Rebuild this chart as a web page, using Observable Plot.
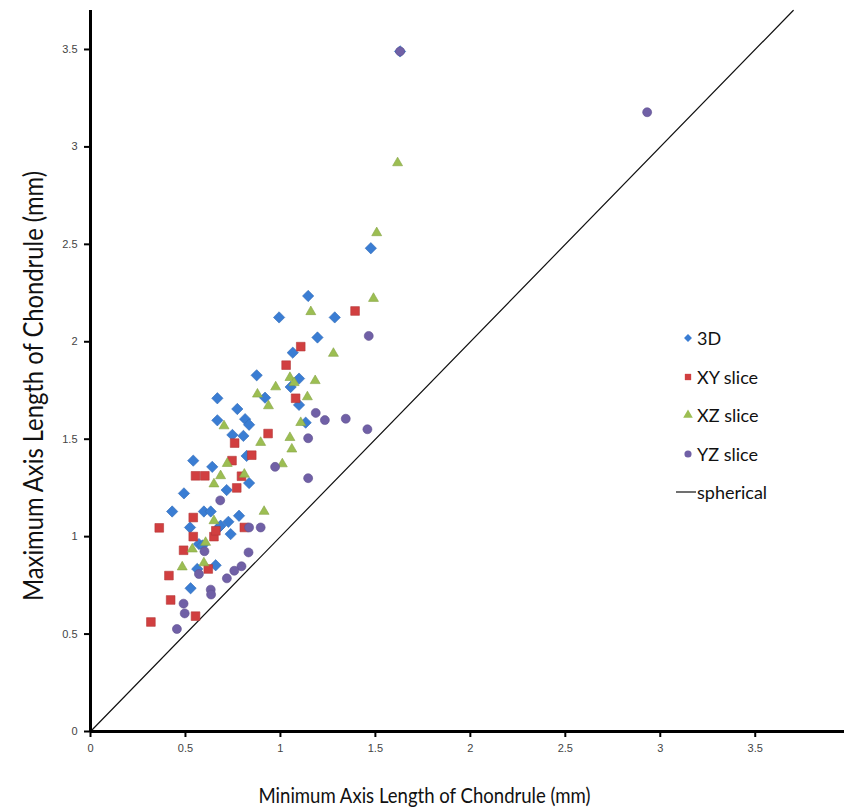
<!DOCTYPE html>
<html>
<head>
<meta charset="utf-8">
<script src="https://cdn.jsdelivr.net/npm/d3@7"></script>
<script src="https://cdn.jsdelivr.net/npm/@observablehq/plot@0.6"></script>
<style>
  html, body { margin: 0; padding: 0; background: #fff; }
  #wrap { position: relative; width: 844px; height: 811px; font-family: Lato, "Open Sans", sans-serif; }
  #legend { position: absolute; left: 676px; top: 326px; font-size: 18px; color: #111; }
  #legend .row { height: 38.5px; display: flex; align-items: center; height: 24px; margin-bottom: 14.5px; }
  #legend svg { margin-right: 1px; }
</style>
</head>
<body>
<div id="wrap"><div id="legend"></div></div>
<script>
// Series names
const series = ["3D", "XY slice", "XZ slice", "YZ slice"];

// [minimum axis, maximum axis] in mm for each chondrule
const points3D = [
  [1.63, 3.49], [1.476, 2.48], [1.146, 2.235], [0.993, 2.125], [1.286, 2.125],
  [1.195, 2.022], [1.065, 1.944], [0.875, 1.828], [1.098, 1.811], [1.054, 1.768],
  [0.919, 1.713], [1.098, 1.676], [0.668, 1.71], [0.773, 1.655], [0.668, 1.597],
  [0.814, 1.603], [0.835, 1.574], [0.747, 1.522], [0.805, 1.517], [1.133, 1.585],
  [0.822, 1.414], [0.541, 1.39], [0.641, 1.358], [0.492, 1.222], [0.717, 1.239],
  [0.835, 1.275], [0.43, 1.129], [0.597, 1.129], [0.633, 1.129], [0.782, 1.107],
  [0.726, 1.076], [0.524, 1.047], [0.676, 1.047], [0.738, 1.013], [0.571, 0.962],
  [0.59, 0.955], [0.659, 0.853], [0.562, 0.834], [0.527, 0.735], [0.685, 1.056]
];
const pointsXY = [
  [1.393, 2.158], [1.107, 1.975], [1.03, 1.88], [1.08, 1.71], [0.759, 1.48],
  [0.935, 1.529], [0.849, 1.418], [0.745, 1.39], [0.553, 1.312], [0.602, 1.312],
  [0.795, 1.31], [0.77, 1.25], [0.541, 1.098], [0.362, 1.045], [0.81, 1.047],
  [0.65, 1.0], [0.66, 1.03], [0.541, 1.0], [0.49, 0.93], [0.62, 0.834],
  [0.413, 0.8], [0.422, 0.675], [0.553, 0.592], [0.318, 0.562]
];
const pointsXZ = [
  [1.617, 2.918], [1.507, 2.559], [1.49, 2.222], [1.16, 2.154], [1.279, 1.94],
  [1.183, 1.8], [1.05, 1.816], [0.975, 1.768], [0.879, 1.731], [0.937, 1.671],
  [1.142, 1.717], [1.107, 1.585], [1.05, 1.508], [1.06, 1.449], [0.896, 1.483],
  [0.703, 1.568], [0.72, 1.375], [1.01, 1.373], [0.65, 1.27], [0.685, 1.312],
  [0.81, 1.32], [0.914, 1.129], [0.65, 1.081], [0.606, 0.97], [0.536, 0.936],
  [0.483, 0.844], [0.597, 0.865], [1.072, 1.79]
];
const pointsYZ = [
  [2.931, 3.178], [1.63, 3.49], [1.465, 2.03], [1.186, 1.635], [1.234, 1.598],
  [1.344, 1.605], [1.458, 1.551], [1.146, 1.505], [0.972, 1.358], [1.146, 1.3],
  [0.683, 1.186], [0.835, 1.047], [0.896, 1.047], [0.6, 0.925], [0.832, 0.919],
  [0.795, 0.848], [0.757, 0.825], [0.718, 0.786], [0.571, 0.808], [0.633, 0.728],
  [0.635, 0.703], [0.49, 0.656], [0.496, 0.606], [0.455, 0.526]
];

// Equal minimum and maximum axis: the reference line for a spherical chondrule
const spherical = [0, 3.7];

// Axis ticks
const ticksX = [0, 0.5, 1, 1.5, 2, 2.5, 3, 3.5];
const ticksY = [0, 0.5, 1, 1.5, 2, 2.5, 3, 3.5];

// Axis titles
const titleX = "Minimum Axis Length of Chondrule (mm)";
const titleY = "Maximum Axis Length of Chondrule (mm)";

const colors = ["#3a7dd3", "#d13f40", "#9cbe52", "#7060a6"];
const symbols = ["diamond2", "square", "triangle", "circle"];
const radii = [5.1, 4.9, 3.7, 4.5];
const seriesPoints = [points3D, pointsXY, pointsXZ, pointsYZ];

const rows = seriesPoints.flatMap((pts, i) =>
  pts.map(([min, max]) => ({series: series[i], min, max})));

const font = "Lato, 'Open Sans', sans-serif";

const chart = Plot.plot({
  width: 844,
  height: 811,
  marginLeft: 90,
  marginRight: 0,
  marginTop: 10,
  marginBottom: 80,
  style: {fontFamily: font, background: "#fff", overflow: "visible"},
  x: {domain: [0, 3.97], axis: null},
  y: {domain: [0, 3.7], axis: null},
  marks: [
    Plot.line(spherical, {x: d => d, y: d => d, stroke: "#111", strokeWidth: 1.2}),
    ...seriesPoints.map((pts, i) => Plot.dot(rows.filter(r => r.series === series[i]), {
      x: "min", y: "max", symbol: () => symbols[i], r: radii[i],
      fill: colors[i], stroke: d3.color(colors[i]).darker(0.4).formatHex(), strokeWidth: 0.6
    })),
    Plot.axisX(ticksX, {
      tickSize: 6, tickPadding: 7, strokeWidth: 2, stroke: "#000",
      fontSize: 11, fill: "#444", fontFamily: "'Liberation Sans', sans-serif",
      tickFormat: d => String(d), label: null
    }),
    Plot.axisY(ticksY, {
      tickSize: 6, tickPadding: 7, strokeWidth: 2, stroke: "#000",
      fontSize: 11, fill: "#444", fontFamily: "'Liberation Sans', sans-serif",
      tickFormat: d => String(d), label: null
    }),
    Plot.ruleY([0], {stroke: "#000", strokeWidth: 3}),
    Plot.ruleX([0], {stroke: "#000", strokeWidth: 3}),
    Plot.text([titleX], {
      frameAnchor: "bottom", textAnchor: "middle", lineAnchor: "middle",
      dx: -43, dy: 64, fontSize: 22, fill: "#111", className: "title-x"
    }),
    Plot.text([titleY], {
      frameAnchor: "left", textAnchor: "middle", lineAnchor: "middle",
      dx: -56, dy: 15, rotate: -90, fontSize: 26, fill: "#111", className: "title-y"
    })
  ]
});

// Narrow the axis titles to the width of the original typeface
for (const [cls, len] of [["title-x", 332], ["title-y", 430]]) {
  chart.querySelectorAll(`.${cls} text`).forEach(t => {
    t.setAttribute("textLength", len);
    t.setAttribute("lengthAdjust", "spacingAndGlyphs");
  });
}

const wrap = document.getElementById("wrap");
wrap.insertBefore(chart, wrap.firstChild);

// Legend drawn beside the markers, inside the plotting area
const legend = document.getElementById("legend");
const legendItems = series.map((s, i) => ({label: s, color: colors[i], symbol: symbols[i]}));
legendItems.push({label: "spherical", line: true});
for (const item of legendItems) {
  const row = document.createElement("div");
  row.className = "row";
  const sw = d3.create("svg").attr("width", 20).attr("height", 20);
  if (item.line) {
    sw.append("line").attr("x1", 0).attr("x2", 20).attr("y1", 10).attr("y2", 10)
      .attr("stroke", "#111").attr("stroke-width", 1.2);
  } else {
    const sym = {diamond2: d3.symbolDiamond2, square: d3.symbolSquare,
                 triangle: d3.symbolTriangle, circle: d3.symbolCircle}[item.symbol];
    sw.append("path").attr("transform", "translate(12,10)")
      .attr("d", d3.symbol(sym, 40)()).attr("fill", item.color);
  }
  row.appendChild(sw.node());
  const t = document.createElement("span");
  t.textContent = item.label;
  row.appendChild(t);
  legend.appendChild(row);
}
</script>
</body>
</html>
